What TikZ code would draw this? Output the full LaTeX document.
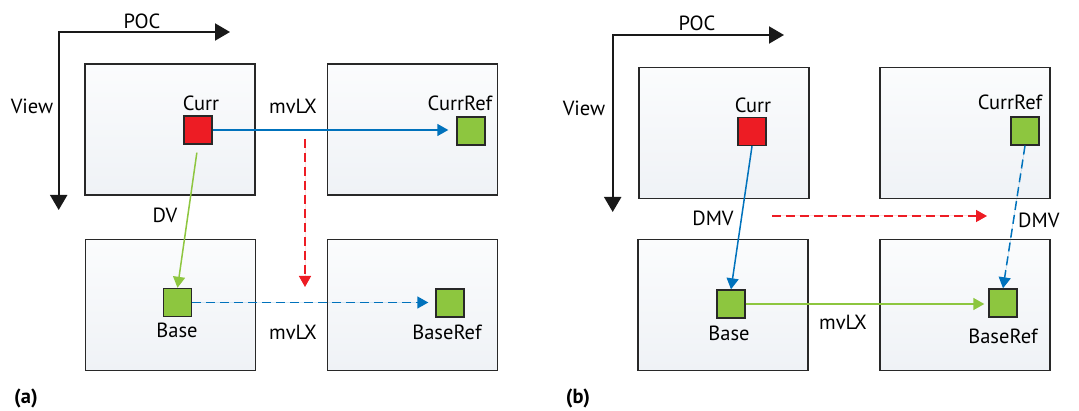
\documentclass[tikz,border=0pt]{standalone}
\usepackage{fontspec}
\setmainfont{PT Sans}
\usetikzlibrary{arrows.meta}
\definecolor{mvred}{RGB}{237,28,36}
\definecolor{mvgreen}{RGB}{141,198,63}
\definecolor{mvblue}{RGB}{0,114,188}
\definecolor{frametop}{RGB}{251,252,253}
\definecolor{framebot}{RGB}{239,242,246}
\definecolor{frameline}{RGB}{40,40,40}
\tikzset{>=stealth,
  pic/.style={draw=frameline, line width=1.8pt, top color=frametop, bottom color=framebot,
    minimum width=170pt, minimum height=131pt, inner sep=0pt},
  blk/.style={draw=frameline, line width=1.4pt, minimum size=28pt, inner sep=0pt},
  lbl/.style={font=\fontsize{20.5}{24}\selectfont, inner sep=0pt},
  axis/.style={line width=2pt, draw=black!90, {Triangle[length=15pt,width=17pt]}-{Triangle[length=15pt,width=17pt]}},
  mv/.style={line width=1.5pt, -{Triangle[length=11pt,width=12pt]}},
  dashline/.style={dash pattern=on 9pt off 5pt}}

\begin{document}
\begin{tikzpicture}[x=1pt, y=-1pt]
	\useasboundingbox (0,0) rectangle (1079,411);
	% (a)
	\coordinate (aview) at (58.7,210);
	\coordinate (apoc) at (230,32);
	\draw [axis] (aview) |- (apoc);
	\node [lbl] at (142,21) {POC};
	\node [lbl] at (32,106) {View};
	\node [pic] (aCurrPic) at (170,129.5) {};
	\node [pic] (aCurrRefPic) at (412.5,129.5) {};
	\node [pic] (aBasePic) at (170.5,305) {};
	\node [pic] (aBaseRefPic) at (412.5,305) {};
	\node [blk, fill=mvred] (aCurr) at (198,130) {};
	\node [blk, fill=mvgreen] (aCurrRef) at (471,131) {};
	\node [blk, fill=mvgreen] (aBase) at (177.5,302.5) {};
	\node [blk, fill=mvgreen] (aBaseRef) at (450,303) {};
	\node [lbl] at (201,103) {Curr};
	\node [lbl] at (460,103) {CurrRef};
	\node [lbl] at (177,330) {Base};
	\node [lbl] at (447,332) {BaseRef};
	\draw [mv, draw=mvblue, fill=mvblue, shorten >=8pt] (aCurr.east) -- (aCurr.east -| aCurrRef.west);
	\draw [mv, draw=mvgreen, fill=mvgreen, shorten <=8pt] (aCurr.south) -- (aBase.north);
	\draw [mv, draw=mvblue, fill=mvblue, dashline, shorten >=7pt] (aBase.east) -- (aBase.east -| aBaseRef.west);
	\coordinate (aRedTop) at (305,139);
	\coordinate (aRedEnd) at (305,287);
	\draw [mv, draw=mvred, fill=mvred, dashline] (aRedTop) -- (aRedEnd);
	\node [lbl] at (293,106) {mvLX};
	\node [lbl] at (165,215) {DV};
	\node [lbl] at (293,332) {mvLX};
	\node [lbl, font=\fontsize{20.5}{24}\selectfont\bfseries] at (26,398) {(a)};
	% (b)
	\coordinate (bview) at (612.7,212);
	\coordinate (bpoc) at (784,35);
	\draw [axis] (bview) |- (bpoc);
	\node [lbl] at (697,23) {POC};
	\node [lbl] at (584,108) {View};
	\node [pic] (bCurrPic) at (724,133) {};
	\node [pic] (bCurrRefPic) at (965,133) {};
	\node [pic] (bBasePic) at (723,305) {};
	\node [pic] (bBaseRefPic) at (965,305) {};
	\node [blk, fill=mvred] (bCurr) at (752,131.5) {};
	\node [blk, fill=mvgreen] (bCurrRef) at (1025,131) {};
	\node [blk, fill=mvgreen] (bBase) at (731,304) {};
	\node [blk, fill=mvgreen] (bBaseRef) at (1003,303) {};
	\node [lbl] at (753,105) {Curr};
	\node [lbl] at (1010,102) {CurrRef};
	\node [lbl] at (729,333) {Base};
	\node [lbl] at (1003,336) {BaseRef};
	\draw [mv, draw=mvblue, fill=mvblue] (bCurr.south) -- (bBase.north);
	\draw [mv, draw=mvblue, fill=mvblue, dashline] (bCurrRef.south) -- (bBaseRef.north);
	\draw [mv, draw=mvgreen, fill=mvgreen, shorten >=4pt] (bBase.east) -- (bBase.east -| bBaseRef.west);
	\coordinate (bRedStart) at (772,216);
	\coordinate (bRedEnd) at (987,216);
	\draw [mv, draw=mvred, fill=mvred, dashline] (bRedStart) -- (bRedEnd);
	\node [lbl] at (713,218) {DMV};
	\node [lbl, anchor=west] at (1018,220) {DMV};
	\node [lbl] at (843,322) {mvLX};
	\node [lbl, font=\fontsize{20.5}{24}\selectfont\bfseries] at (578,398) {(b)};
\end{tikzpicture}
\end{document}
